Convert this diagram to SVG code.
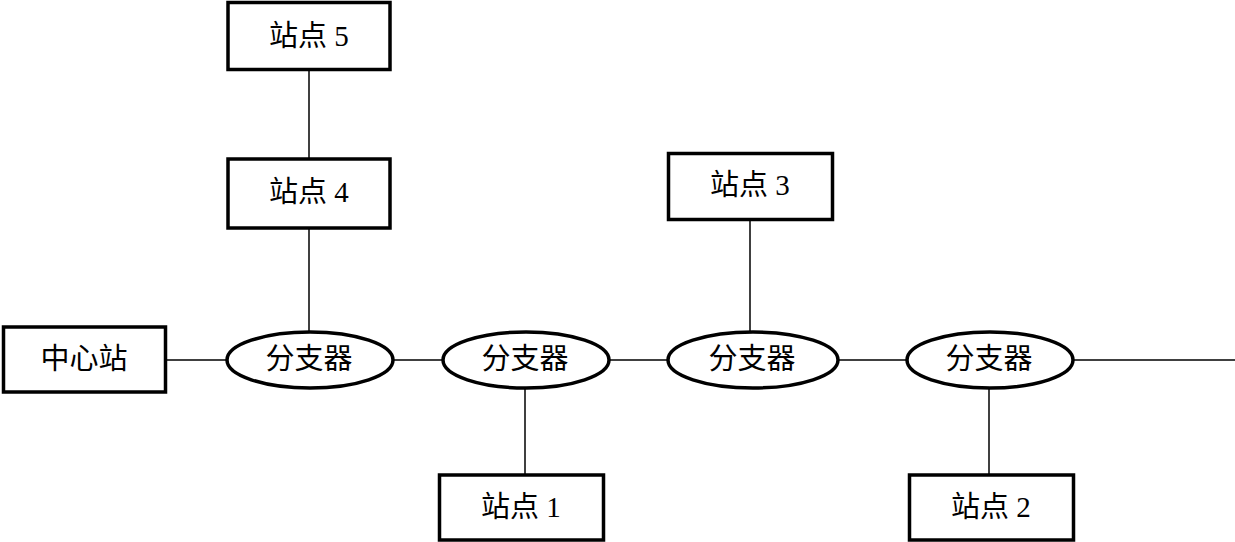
<svg xmlns="http://www.w3.org/2000/svg" width="1235" height="542" viewBox="0 0 1235 542">
<style>
.box{fill:#fff;stroke:#000;stroke-width:3.5}
.ell{fill:#fff;stroke:#000;stroke-width:3.5}
.ln{stroke:#000;stroke-width:1.5;fill:none}
text{font-family:"Liberation Serif","Noto Sans CJK SC",serif;font-size:29px;fill:#000;text-anchor:middle;dominant-baseline:central}
</style>
<g id="connectors">
<line class="ln" x1="166" y1="360" x2="1235" y2="360"/>
<line class="ln" x1="309" y1="70" x2="309" y2="159"/>
<line class="ln" x1="309" y1="228" x2="309" y2="332"/>
<line class="ln" x1="525" y1="388" x2="525" y2="475"/>
<line class="ln" x1="750" y1="220" x2="750" y2="332"/>
<line class="ln" x1="989" y1="388" x2="989" y2="475"/>
</g>
<g id="center"><rect class="box" x="3.5" y="327" width="162" height="65"/><text x="84" y="359">中心站</text></g>
<g id="splitter1"><ellipse class="ell" cx="310" cy="360" rx="83" ry="28"/><text x="309" y="359">分支器</text></g>
<g id="splitter2"><ellipse class="ell" cx="526" cy="360" rx="83" ry="28"/><text x="525" y="359">分支器</text></g>
<g id="splitter3"><ellipse class="ell" cx="753" cy="360" rx="85" ry="28"/><text x="752" y="359">分支器</text></g>
<g id="splitter4"><ellipse class="ell" cx="990" cy="360" rx="83" ry="28"/><text x="989" y="359">分支器</text></g>
<g id="station5"><rect class="box" x="228" y="2.5" width="162" height="67"/><text x="309" y="36">站点 5</text></g>
<g id="station4"><rect class="box" x="228" y="159" width="162" height="69"/><text x="309" y="192">站点 4</text></g>
<g id="station3"><rect class="box" x="668.5" y="153.5" width="164" height="66"/><text x="750" y="185">站点 3</text></g>
<g id="station1"><rect class="box" x="439.5" y="475" width="164" height="65"/><text x="521" y="507">站点 1</text></g>
<g id="station2"><rect class="box" x="909.5" y="475" width="164" height="65"/><text x="991" y="507">站点 2</text></g>
</svg>
